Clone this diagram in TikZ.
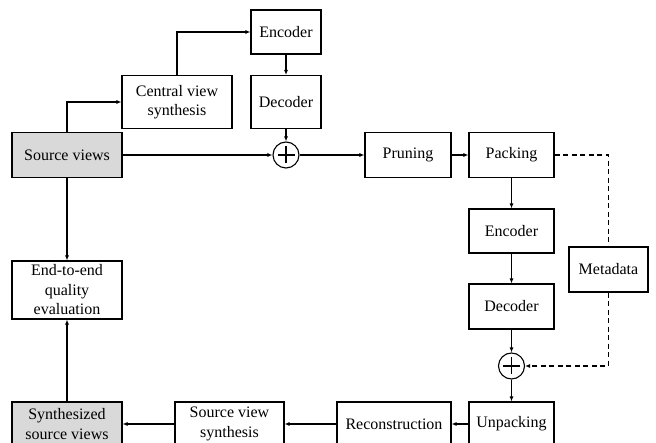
\documentclass[tikz,border=0pt]{standalone}
\usepackage{fontspec}
\setmainfont{Liberation Serif}
\usetikzlibrary{calc,arrows.meta}

\begin{document}
\begin{tikzpicture}[x=1pt,y=-1pt,
	box/.style={draw, line width=1.1pt, align=center, inner sep=2pt,
		font=\fontsize{16}{19.5}\selectfont},
	shaded/.style={box, fill=black!15},
	sum/.style={draw, circle, line width=1.1pt, minimum size=26pt, inner sep=0pt},
	link/.style={line width=1.1pt, -{Latex[length=5pt,width=4pt]}},
	dashlink/.style={line width=1.1pt, dash pattern=on 5pt off 3.5pt}]
		%%%%% START %%%%%
		\useasboundingbox (0,0) rectangle (656,443);
		\clip (0,0) rectangle (656,443);
		
		\node[shaded, minimum width=110pt, minimum height=45pt] (src) at (67,155) {Source views};
		\node[box, minimum width=110pt, minimum height=53pt] (cvs) at (177,102) {Central view\\synthesis};
		\node[box, minimum width=70pt, minimum height=44pt] (enc1) at (286,32) {Encoder};
		\node[box, minimum width=70pt, minimum height=53pt] (dec1) at (286,102) {Decoder};
		\node[sum] (sum1) at (286,155) {};
		\node[box, minimum width=86pt, minimum height=45pt] (prune) at (408,155) {Pruning};
		\node[box, minimum width=85pt, minimum height=45pt] (pack) at (511.5,155) {Packing};
		
		\node[box, minimum width=85pt, minimum height=44pt] (enc2) at (511.5,231) {Encoder};
		\node[box, minimum width=85pt, minimum height=45pt] (dec2) at (511.5,306.5) {Decoder};
		\node[box, minimum width=79pt, minimum height=45pt] (meta) at (608.5,269.5) {Metadata};
		\node[sum] (sum2) at (511.5,366) {};
		
		\node[box, minimum width=85pt, minimum height=44pt] (unpack) at (511.5,424) {Unpacking};
		\node[box, minimum width=114pt, minimum height=44pt] (recon) at (394,424) {Reconstruction};
		\node[box, minimum width=109pt, minimum height=44pt] (svs) at (229.5,424) {Source view\\synthesis};
		\node[shaded, minimum width=110pt, minimum height=44pt] (synth) at (67,424) {Synthesized\\source views};
		\node[box, minimum width=110pt, minimum height=58pt] (e2e) at (67,290) {End-to-end\\quality\\evaluation};
		
		% plus signs
		\foreach \s in {sum1,sum2} {
			\draw[line width=1.1pt] ($(\s)+(-8.5,0)$) -- ($(\s)+(8.5,0)$);
			\draw[line width=1.1pt] ($(\s)+(0,-8.5)$) -- ($(\s)+(0,8.5)$);
		}
		
		% top branch
		\draw[link] (src.north) |- (cvs.west);
		\draw[link] (cvs.north) |- (enc1.west);
		\draw[link] (enc1) -- (dec1);
		\draw[link] (dec1) -- (sum1);
		\draw[link] (src) -- (sum1);
		\draw[link] (sum1) -- (prune);
		\draw[link] (prune) -- (pack);
		
		% right column
		\draw[link] (pack) -- (enc2);
		\draw[link] (enc2) -- (dec2);
		\draw[link] (dec2) -- (sum2);
		\draw[link] (sum2) -- (unpack);
		\draw[dashlink] (pack.east) -| (meta.north);
		\draw[dashlink, -{Latex[length=5pt,width=4pt]}] (meta.south) |- (sum2.east);
		
		% bottom row
		\draw[link] (unpack) -- (recon);
		\draw[link] (recon) -- (svs);
		\draw[link] (svs) -- (synth);
		\draw[link] (synth) -- (e2e);
		\draw[link] (src) -- (e2e);
		
		%%%%% END %%%%%
\end{tikzpicture}
\end{document}
